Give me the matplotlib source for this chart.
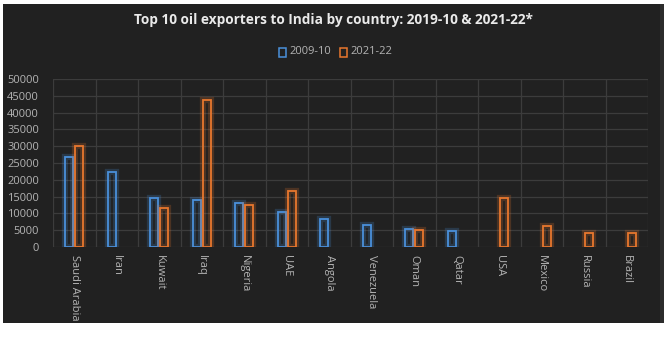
import numpy as np
import matplotlib
matplotlib.use("Agg")
import matplotlib.pyplot as plt
import matplotlib.patheffects as pe
from matplotlib.patches import Rectangle

countries = ["Saudi Arabia", "Iran", "Kuwait", "Iraq", "Nigeria", "UAE", "Angola",
             "Venezuela", "Oman", "Qatar", "USA", "Mexico", "Russia", "Brazil"]
imports_2009 = [26900, 22200, 14700, 14100, 13200, 10500, 8200,
                6500, 5500, 4900, np.nan, np.nan, np.nan, np.nan]
imports_2021 = [30000, np.nan, 11500, 43800, 12600, 16800, np.nan,
                np.nan, 5200, np.nan, 14700, 6200, 4100, 4100]
yticks = list(range(0, 50001, 5000))

BG = "#212121"
BLUE = "#4a90db"
ORANGE = "#e8772e"
TEXT = "#b4b4b4"

plt.rcParams["font.family"] = ["Open Sans", "DejaVu Sans"]

fig = plt.figure(figsize=(6.68, 3.49), dpi=100, facecolor="white")
# dark chart panel behind everything
fig.patches.append(Rectangle((3 / 668, 1 - 323 / 349), 657 / 668, 319 / 349,
                             transform=fig.transFigure, facecolor=BG,
                             edgecolor="none", zorder=-10))
fig.patches.append(Rectangle((660 / 668, 1 - 323 / 349), 4 / 668, 319 / 349,
                             transform=fig.transFigure, facecolor="#2c2c2c",
                             edgecolor="none", zorder=-10))

ax = fig.add_axes([53 / 668, 1 - 247 / 349, 595 / 668, 168 / 349])
ax.patch.set_alpha(0)

x = np.arange(len(countries))
w = 0.19
off = 0.12


def glow_bars(vals, pos, color):
    vals = np.array(vals, dtype=float)
    ok = ~np.isnan(vals)
    bars = ax.bar(pos[ok], vals[ok], width=w, facecolor="none",
                  edgecolor=color, linewidth=1.3, zorder=3)
    for b in bars:
        b.set_path_effects([pe.Stroke(linewidth=4.5, foreground=color, alpha=0.22),
                            pe.Normal()])
    return bars


glow_bars(imports_2009, x - off, BLUE)
glow_bars(imports_2021, x + off, ORANGE)

ax.set_xlim(-0.5, len(countries) - 0.5)
ax.set_ylim(0, 50000)
ax.set_yticks(yticks)
ax.set_yticklabels([str(v) for v in yticks], color=TEXT, fontsize=8)
ax.set_xticks(x)
ax.set_xticklabels(countries, rotation=-90, color=TEXT, fontsize=8,
                   va="top", ha="center")
ax.set_xticks(np.arange(-0.5, len(countries)), minor=True)
ax.tick_params(axis="both", which="both", length=0, pad=6)
ax.tick_params(axis="y", pad=10)
ax.grid(True, axis="y", color="#3c3c3c", linewidth=0.9, zorder=0)
ax.grid(True, axis="x", which="minor", color="#3c3c3c", linewidth=0.9, zorder=0)
ax.set_axisbelow(True)
for s in ax.spines.values():
    s.set_visible(False)

fig.text(333 / 668, 1 - 20 / 349,
         "Top 10 oil exporters to India by country: 2019-10 & 2021-22*",
         ha="center", va="center", color="#eaeaea", fontsize=9.8, fontweight="bold")

# legend
ly = 1 - 52 / 349
for lx, col, lab in [(279, BLUE, "2009-10"), (340, ORANGE, "2021-22")]:
    fig.patches.append(Rectangle((lx / 668, ly - 4.5 / 349), 7 / 668, 9 / 349,
                                 transform=fig.transFigure, facecolor="none",
                                 edgecolor=col, linewidth=1.1))
    fig.text((lx + 10) / 668, ly, lab, ha="left", va="center", color=TEXT, fontsize=8)

fig.savefig("out.png", dpi=100, facecolor="white")
